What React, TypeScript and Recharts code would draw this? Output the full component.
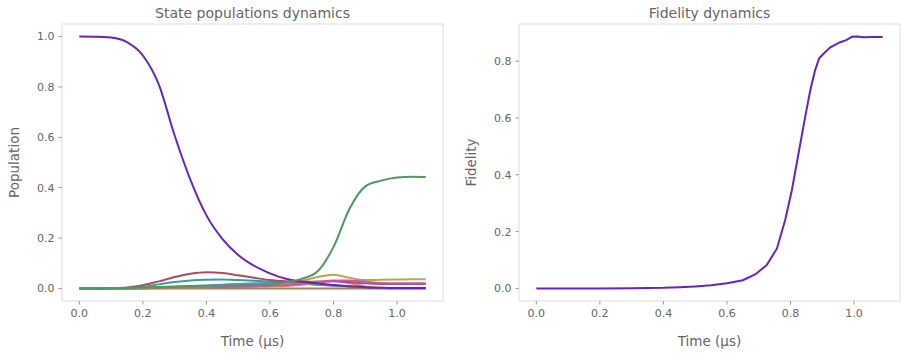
import React from 'react';
import { LineChart, Line, XAxis, YAxis, ReferenceArea } from 'recharts';

// ---- data ----
const times = [0, 0.05, 0.1, 0.15, 0.2, 0.25, 0.3, 0.35, 0.4, 0.45, 0.5, 0.55, 0.6, 0.65, 0.7, 0.75, 0.8, 0.85, 0.9, 0.95, 1.0, 1.05, 1.09];

const statePurple = [1.0, 0.9998, 0.996, 0.978, 0.925, 0.81, 0.607, 0.43, 0.29, 0.197, 0.133, 0.09, 0.06, 0.038, 0.026, 0.02, 0.014, 0.009, 0.005, 0.003, 0.002, 0.002, 0.002];
const stateGreen = [0, 0, 0.001, 0.002, 0.004, 0.006, 0.008, 0.01, 0.011, 0.012, 0.013, 0.014, 0.016, 0.024, 0.038, 0.068, 0.165, 0.315, 0.405, 0.428, 0.44, 0.443, 0.442];
const stateRed = [0, 0, 0.001, 0.004, 0.013, 0.028, 0.045, 0.058, 0.064, 0.061, 0.052, 0.042, 0.033, 0.028, 0.026, 0.027, 0.028, 0.025, 0.02, 0.018, 0.018, 0.018, 0.018];
const stateTeal = [0, 0, 0, 0.002, 0.007, 0.016, 0.025, 0.031, 0.034, 0.035, 0.033, 0.03, 0.027, 0.024, 0.02, 0.015, 0.012, 0.008, 0.004, 0.002, 0.001, 0.001, 0.001];
const stateOlive = [0, 0, 0, 0.001, 0.002, 0.003, 0.004, 0.005, 0.006, 0.007, 0.008, 0.01, 0.013, 0.02, 0.03, 0.045, 0.054, 0.042, 0.033, 0.034, 0.035, 0.036, 0.036];
const stateMagenta = [0, 0, 0, 0, 0.001, 0.002, 0.003, 0.004, 0.005, 0.006, 0.007, 0.009, 0.011, 0.014, 0.018, 0.025, 0.031, 0.031, 0.026, 0.021, 0.02, 0.02, 0.02];
const stateOrange = [0, 0, 0, 0, 0, 0.001, 0.002, 0.003, 0.004, 0.005, 0.006, 0.007, 0.008, 0.01, 0.015, 0.022, 0.029, 0.02, 0.008, 0.003, 0.002, 0.002, 0.002];
const stateBlue = [0, 0, 0, 0, 0.001, 0.003, 0.006, 0.009, 0.012, 0.015, 0.018, 0.02, 0.021, 0.021, 0.019, 0.015, 0.011, 0.007, 0.004, 0.002, 0.001, 0.001, 0.001];
const stateBrown = [0, 0, 0, 0, 0, 0, 0, 0, 0, 0, 0, 0, 0, 0, 0, 0, 0, 0, 0, 0, 0, 0, 0];

const fidTimes = [0, 0.1, 0.2, 0.3, 0.4, 0.45, 0.5, 0.55, 0.6, 0.65, 0.69, 0.725, 0.757, 0.783, 0.804, 0.825, 0.846, 0.862, 0.877, 0.89, 0.9, 0.925, 0.956, 0.975, 0.993, 1.01, 1.03, 1.06, 1.09];
const fidelity = [0, 0, 0, 0.0005, 0.002, 0.004, 0.007, 0.011, 0.018, 0.029, 0.05, 0.082, 0.14, 0.24, 0.345, 0.474, 0.603, 0.697, 0.767, 0.81, 0.822, 0.849, 0.867, 0.874, 0.886, 0.887, 0.884, 0.885, 0.885];

const xTicks = [0, 0.2, 0.4, 0.6, 0.8, 1.0];
const popTicks = [0, 0.2, 0.4, 0.6, 0.8, 1.0];
const fidTicks = [0, 0.2, 0.4, 0.6, 0.8];

const series = [
  { key: 'blue', values: stateBlue, color: '#5b8fd0' },
  { key: 'teal', values: stateTeal, color: '#3a9c9a' },
  { key: 'orange', values: stateOrange, color: '#e0833f' },
  { key: 'olive', values: stateOlive, color: '#b3ab46' },
  { key: 'red', values: stateRed, color: '#b04c60' },
  { key: 'magenta', values: stateMagenta, color: '#c254c4' },
  { key: 'brown', values: stateBrown, color: '#a3845a' },
  { key: 'purple', values: statePurple, color: '#6a22c6' },
  { key: 'green', values: stateGreen, color: '#4b9a5f' },
];

const popRows = times.map((t, i) => {
  const row: Record<string, number> = { t };
  series.forEach((s) => { row[s.key] = s.values[i]; });
  return row;
});
const fidRows = fidTimes.map((t, i) => ({ t, f: fidelity[i] }));

const FONT = 'DejaVu Sans';
const TXT = '#666';
const tickStyle = { fill: TXT, fontSize: 11, fontFamily: FONT };
const fmt = (v: number) => v.toFixed(1);

const titleStyle = (left: number, width: number): React.CSSProperties => ({
  position: 'absolute', left, width, top: 6, textAlign: 'center', fontSize: 14,
  lineHeight: '14px', color: TXT, fontFamily: FONT, whiteSpace: 'nowrap',
});

const yLabel = (text: string, x: number) => (props: any) => {
  const vb = props.viewBox || { y: 24, height: 277 };
  const cy = vb.y + vb.height / 2;
  return (
    <text x={x} y={cy} transform={`rotate(-90 ${x} ${cy})`} textAnchor="middle" fill={TXT} fontSize={13.5} fontFamily={FONT}>{text}</text>
  );
};

export default function App() {
  return (
    <div style={{ position: 'absolute', left: 0, top: 0, width: 906, height: 357, background: '#fff', overflow: 'hidden' }}>
      <div style={titleStyle(62, 381)}>State populations dynamics</div>
      <div style={titleStyle(519, 381)}>Fidelity dynamics</div>

      <div style={{ position: 'absolute', left: 0, top: 0 }}>
        <LineChart width={450} height={357} data={popRows} margin={{ top: 24, right: 7, bottom: 0, left: 0 }}>
          <XAxis dataKey="t" type="number" domain={[-0.0545, 1.1445]} allowDataOverflow ticks={xTicks} interval={0}
            tickFormatter={fmt} tick={tickStyle} tickLine={{ stroke: '#999' }} axisLine={false} tickSize={3.5} tickMargin={5} height={56}
            label={{ value: 'Time (µs)', position: 'insideBottom', offset: 11, fill: TXT, fontSize: 13.5, fontFamily: FONT }} />
          <YAxis type="number" domain={[-0.05, 1.05]} allowDataOverflow ticks={popTicks} interval={0}
            tickFormatter={fmt} tick={tickStyle} tickLine={{ stroke: '#999' }} axisLine={false} tickSize={3.5} tickMargin={4} width={62}
            label={{ content: yLabel('Population', 19) }} />
          <ReferenceArea x1={-0.0545} x2={1.1445} y1={-0.05} y2={1.05} fill="none" stroke="#dddddd" strokeWidth={1} ifOverflow="visible" />
          {series.map((s) => (
            <Line key={s.key} dataKey={s.key} type="monotone" stroke={s.color} strokeWidth={2} dot={false} isAnimationActive={false} />
          ))}
        </LineChart>
      </div>

      <div style={{ position: 'absolute', left: 450, top: 0 }}>
        <LineChart width={456} height={357} data={fidRows} margin={{ top: 24, right: 6, bottom: 0, left: 0 }}>
          <XAxis dataKey="t" type="number" domain={[-0.0545, 1.1445]} allowDataOverflow ticks={xTicks} interval={0}
            tickFormatter={fmt} tick={tickStyle} tickLine={{ stroke: '#999' }} axisLine={false} tickSize={3.5} tickMargin={5} height={56}
            label={{ value: 'Time (µs)', position: 'insideBottom', offset: 11, fill: TXT, fontSize: 13.5, fontFamily: FONT }} />
          <YAxis type="number" domain={[-0.0443, 0.931]} allowDataOverflow ticks={fidTicks} interval={0}
            tickFormatter={fmt} tick={tickStyle} tickLine={{ stroke: '#999' }} axisLine={false} tickSize={3.5} tickMargin={4} width={69}
            label={{ content: yLabel('Fidelity', 26) }} />
          <ReferenceArea x1={-0.0545} x2={1.1445} y1={-0.0443} y2={0.931} fill="none" stroke="#dddddd" strokeWidth={1} ifOverflow="visible" />
          <Line dataKey="f" type="linear" stroke="#6a22c6" strokeWidth={2} dot={false} isAnimationActive={false} />
        </LineChart>
      </div>
    </div>
  );
}
